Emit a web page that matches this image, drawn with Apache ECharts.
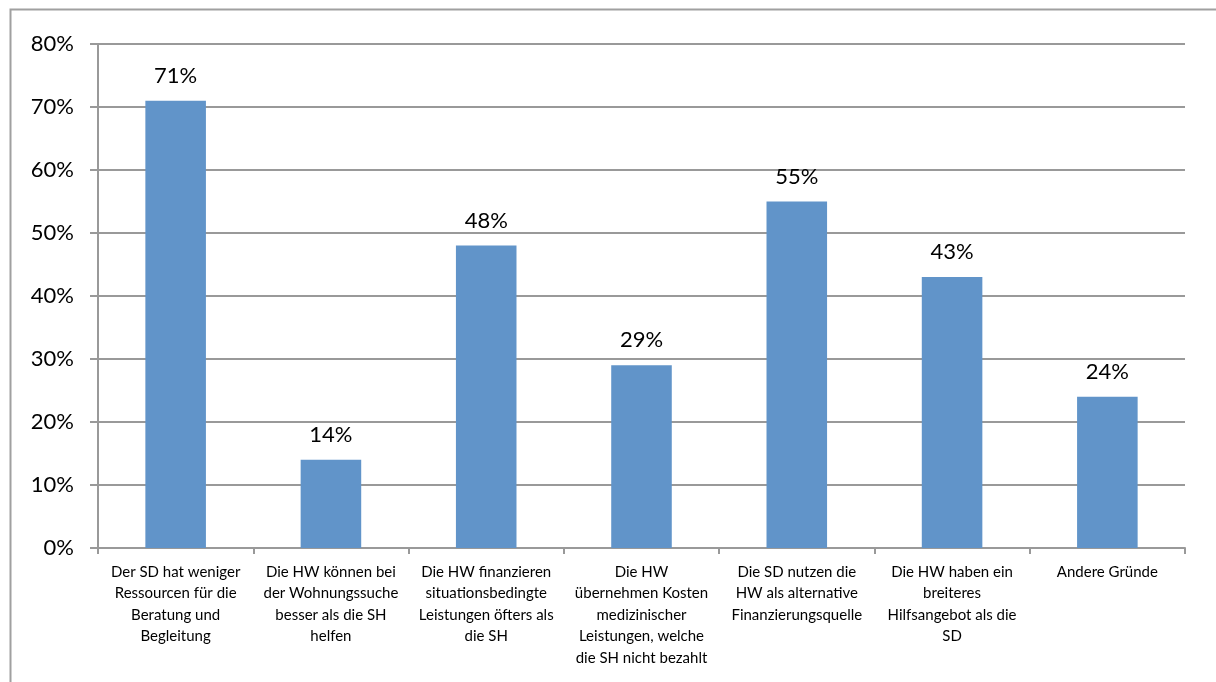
<!DOCTYPE html>
<html>
<head>
<meta charset="utf-8">
<script src="https://cdn.jsdelivr.net/npm/echarts@6/dist/echarts.min.js"></script>
<style>
  html, body { margin: 0; padding: 0; background: #fff; }
  #chart { width: 1216px; height: 682px; }
</style>
</head>
<body>
<div id="chart"></div>
<script>
// categories as they are wrapped in the original chart
const categories = [
  'Der SD hat weniger\nRessourcen für die\nBeratung und\nBegleitung',
  'Die HW können bei\nder Wohnungssuche\nbesser als die SH\nhelfen',
  'Die HW finanzieren\nsituationsbedingte\nLeistungen öfters als\ndie SH',
  'Die HW\nübernehmen Kosten\nmedizinischer\nLeistungen, welche\ndie SH nicht bezahlt',
  'Die SD nutzen die\nHW als alternative\nFinanzierungsquelle',
  'Die HW haben ein\nbreiteres\nHilfsangebot als die\nSD',
  'Andere Gründe'
];
const values = [71, 14, 48, 29, 55, 43, 24];

const chart = echarts.init(document.getElementById('chart'));
const font = 'Lato, "Open Sans", sans-serif';

chart.setOption({
  animation: false,
  textStyle: { fontFamily: font },
  graphic: [{
    type: 'rect',
    shape: { x: 10.5, y: 9.5, width: 1230, height: 700 },
    style: { fill: 'none', stroke: '#a0a0a0', lineWidth: 2 },
    silent: true
  }],
  grid: { left: 98, right: 31, top: 44, bottom: 134 },
  xAxis: {
    type: 'category',
    data: categories,
    axisLine: { lineStyle: { color: '#999', width: 2 } },
    axisTick: { show: true, length: 6, lineStyle: { color: '#999', width: 2 } },
    axisLabel: {
      interval: 0,
      margin: 13,
      color: '#000',
      fontSize: 15,
      lineHeight: 21.5,
      fontFamily: font
    }
  },
  yAxis: {
    type: 'value',
    min: 0,
    max: 80,
    interval: 10,
    axisLine: { show: true, lineStyle: { color: '#999', width: 2 } },
    axisTick: { show: true, length: 8, lineStyle: { color: '#999', width: 2 } },
    splitLine: { lineStyle: { color: '#999', width: 2 } },
    axisLabel: {
      formatter: '{value}%',
      margin: 24,
      color: '#000',
      fontSize: 22,
      fontFamily: font
    }
  },
  series: [{
    type: 'bar',
    data: values,
    barWidth: '39%',
    itemStyle: { color: '#6194c9' },
    label: {
      show: true,
      position: 'top',
      distance: 14,
      formatter: '{c}%',
      color: '#000',
      fontSize: 22,
      fontFamily: font
    }
  }]
});
</script>
</body>
</html>
